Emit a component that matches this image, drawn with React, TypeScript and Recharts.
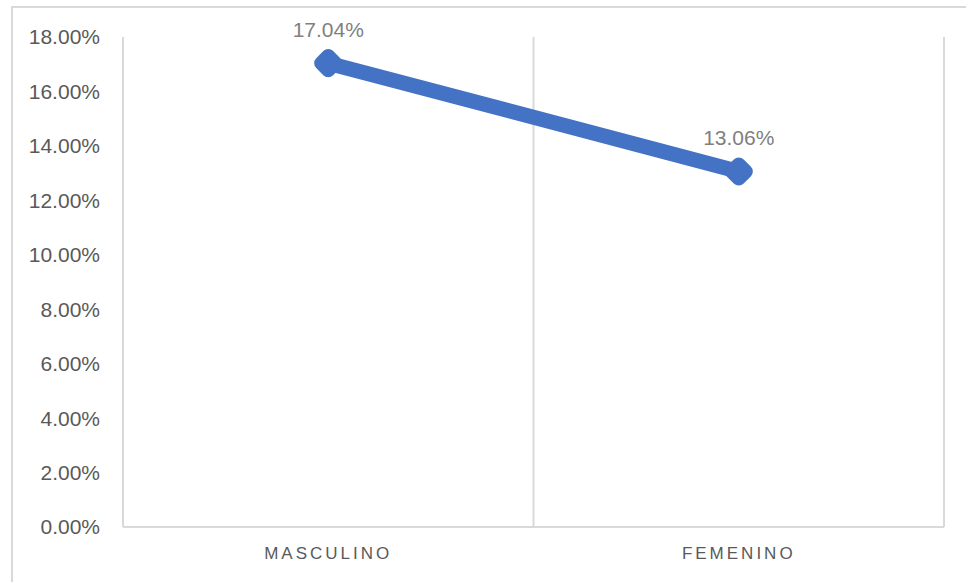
import React from 'react';
import {
  LineChart,
  Line,
  XAxis,
  YAxis,
  CartesianGrid,
  LabelList
} from 'recharts';

const categories = ['MASCULINO', 'FEMENINO'];
const values = [17.04, 13.06];
const yTicks = [0, 2, 4, 6, 8, 10, 12, 14, 16, 18];
const gridTicks = [0, 1, 2];

const data = categories.map((name, i) => ({ name, value: values[i], slot: i + 0.5 }));

const BLUE = '#4472C4';
const FONT = '"Liberation Sans", Arial, sans-serif';

// rounded diamond marker, like the Excel one
const renderDot = (props: any) => {
  const { cx, cy, index } = props;
  if (cx == null || cy == null) return null;
  return (
    <rect
      key={`dot-${index}`}
      x={cx - 10}
      y={cy - 10}
      width={20}
      height={20}
      rx={5}
      ry={5}
      fill={BLUE}
      stroke={BLUE}
      strokeWidth={4}
      transform={`rotate(45 ${cx} ${cy})`}
    />
  );
};

export default function App() {
  return (
    <div style={{ position: 'absolute', left: 0, top: 0, width: 966, height: 582, overflow: 'hidden', background: '#fff' }}>
      <div
        style={{
          position: 'absolute',
          left: 11,
          top: 6,
          width: 1000,
          height: 700,
          border: '2px solid #d9d9d9',
          boxSizing: 'border-box'
        }}
      />
      <div style={{ position: 'absolute', left: 0, top: 0 }}>
        <LineChart
          width={966}
          height={582}
          data={data}
          margin={{ top: 37, right: 22, bottom: 25, left: 23 }}
        >
          <XAxis xAxisId="grid" type="number" dataKey="slot" domain={[0, 2]} ticks={gridTicks} hide />
          <CartesianGrid xAxisId="grid" horizontal={false} vertical stroke="#d9d9d9" strokeWidth={2} />
          <XAxis
            dataKey="name"
            scale="band"
            height={30}
            axisLine={{ stroke: '#d9d9d9', strokeWidth: 2 }}
            tickLine={false}
            tickSize={0}
            tickMargin={20}
            tick={{ fill: '#595959', fontSize: 17, fontFamily: FONT, letterSpacing: 3 }}
          />
          <YAxis
            width={100}
            domain={[0, 18]}
            ticks={yTicks}
            axisLine={false}
            tickLine={false}
            tickSize={0}
            tickMargin={23}
            tickFormatter={(v: number) => `${v.toFixed(2)}%`}
            tick={{ fill: '#595959', fontSize: 21, fontFamily: FONT }}
          />
          <Line
            type="linear"
            dataKey="value"
            stroke={BLUE}
            strokeWidth={15}
            strokeLinecap="round"
            dot={renderDot}
            activeDot={false}
            isAnimationActive={false}
          >
            <LabelList
              dataKey="value"
              position="top"
              offset={26}
              formatter={(v: number) => `${v.toFixed(2)}%`}
              style={{ fill: '#7f7f7f', fontSize: 21, fontFamily: FONT }}
            />
          </Line>
        </LineChart>
      </div>
    </div>
  );
}
